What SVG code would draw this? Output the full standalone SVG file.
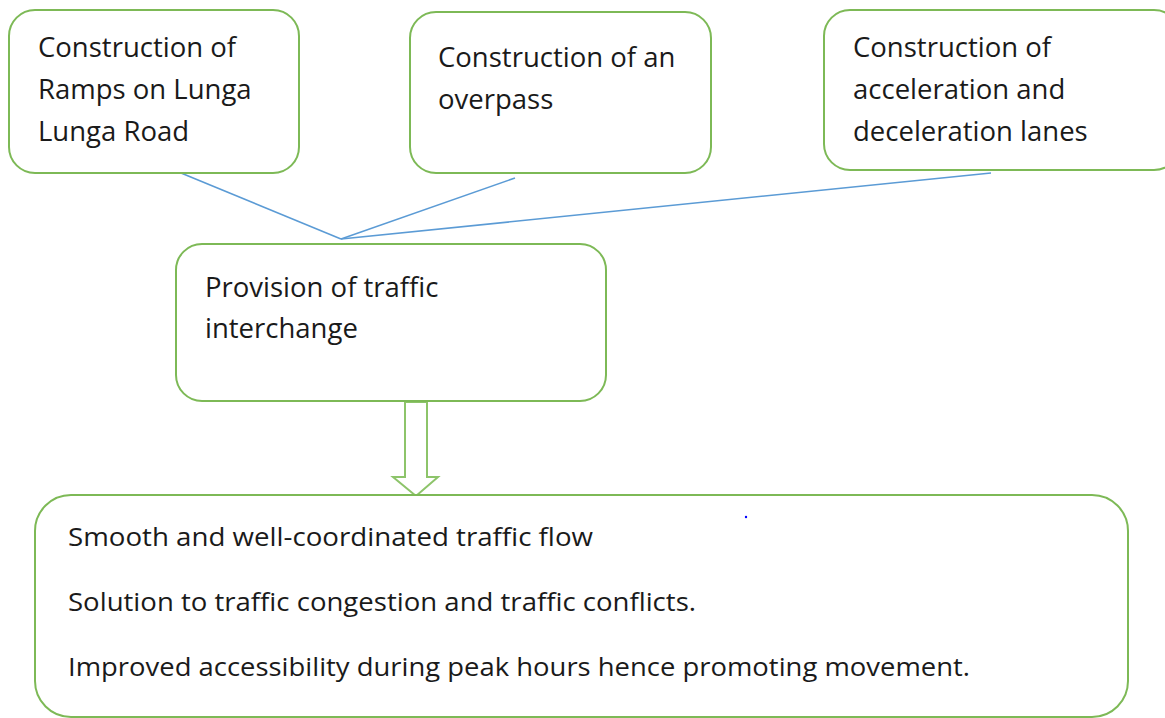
<svg xmlns="http://www.w3.org/2000/svg" width="1165" height="718" viewBox="0 0 1165 718">
<style>
.box{fill:#fff;stroke:#7DB956;stroke-width:2}
.t{font-family:"Open Sans","Liberation Sans",sans-serif;font-size:27.5px;fill:#1a1a1a}
.b{font-family:"Open Sans","Liberation Sans",sans-serif;font-size:26px;fill:#1a1a1a}
.con{stroke:#5B9BD5;stroke-width:1.6;fill:none}
</style>
<rect width="1165" height="718" fill="#fff"/>
<g id="connectors">
<line class="con" x1="181" y1="173" x2="341" y2="239"/>
<line class="con" x1="515" y1="178" x2="341" y2="239"/>
<line class="con" x1="991" y1="173" x2="341" y2="239"/>
<path d="M405 402 H427 V477 H438 L416 496 L393 477 H405 Z" fill="#fff" stroke="#8DC46A" stroke-width="2"/>
</g>
<g id="n1">
<rect class="box" x="9" y="10" width="290" height="163" rx="26"/>
<text class="t" x="38" y="57">Construction of</text>
<text class="t" x="38" y="99">Ramps on Lunga</text>
<text class="t" x="38" y="141">Lunga Road</text>
</g>
<g id="n2">
<rect class="box" x="410" y="12" width="301" height="161" rx="26"/>
<text class="t" x="438" y="67">Construction of an</text>
<text class="t" x="438" y="109">overpass</text>
</g>
<g id="n3">
<rect class="box" x="824" y="10" width="356" height="160" rx="26"/>
<text class="t" x="853" y="57">Construction of</text>
<text class="t" x="853" y="99">acceleration and</text>
<text class="t" x="853" y="141">deceleration lanes</text>
</g>
<g id="n4">
<rect class="box" x="176" y="244" width="430" height="157" rx="26"/>
<text class="t" x="205" y="297">Provision of traffic</text>
<text class="t" x="205" y="338">interchange</text>
</g>
<g id="n5">
<rect class="box" x="35" y="495" width="1093" height="222" rx="36"/>
<text class="b" x="68" y="546" textLength="525" lengthAdjust="spacingAndGlyphs">Smooth and well-coordinated traffic flow</text>
<text class="b" x="68" y="611" textLength="628" lengthAdjust="spacingAndGlyphs">Solution to traffic congestion and traffic conflicts.</text>
<text class="b" x="68" y="676" textLength="902" lengthAdjust="spacingAndGlyphs">Improved accessibility during peak hours hence promoting movement.</text>
</g>
<circle cx="746" cy="517" r="1.2" fill="#0000ff"/>
</svg>
